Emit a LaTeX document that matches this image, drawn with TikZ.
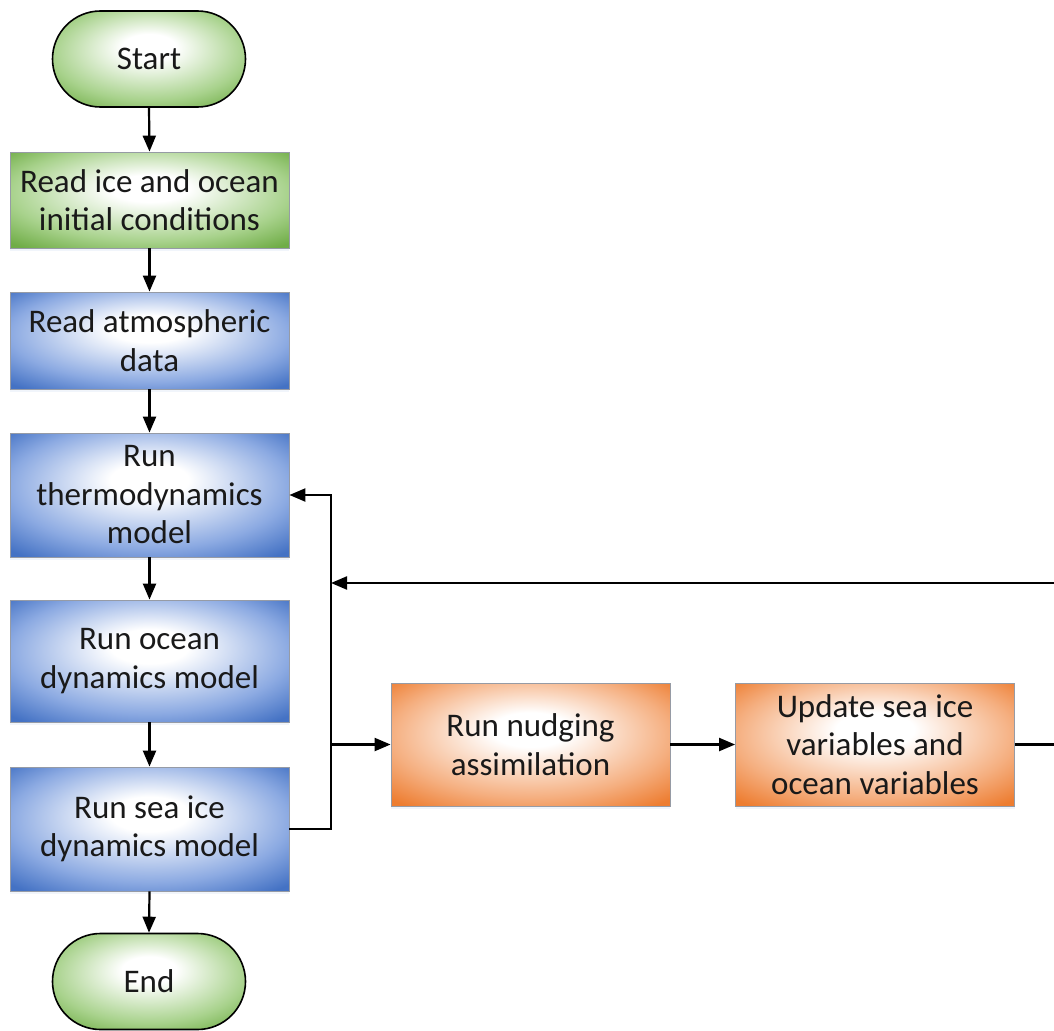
\documentclass[tikz,border=0pt]{standalone}
\usepackage{fontspec}
\setmainfont{Carlito}
\usetikzlibrary{arrows.meta,shadows}

\definecolor{bluedk}{RGB}{68,114,196}
\definecolor{bluemd}{RGB}{140,170,226}
\definecolor{greendk}{RGB}{112,173,71}
\definecolor{greenmd}{RGB}{168,210,140}
\definecolor{orangedk}{RGB}{237,125,49}
\definecolor{orangemd}{RGB}{245,175,128}
\definecolor{inkc}{RGB}{25,25,25}
\definecolor{edgec}{RGB}{150,155,165}

% glossy radial fills, bright spot slightly above the middle
\pgfdeclareradialshading{blueglow}{\pgfpoint{0bp}{7bp}}{color(0bp)=(white); color(7bp)=(white); color(25bp)=(bluemd); color(35bp)=(bluedk); color(50bp)=(bluedk)}
\pgfdeclareradialshading{greenglow}{\pgfpoint{0bp}{7bp}}{color(0bp)=(white); color(7bp)=(white); color(25bp)=(greenmd); color(35bp)=(greendk); color(50bp)=(greendk)}
\pgfdeclareradialshading{orangeglow}{\pgfpoint{0bp}{7bp}}{color(0bp)=(white); color(7bp)=(white); color(25bp)=(orangemd); color(35bp)=(orangedk); color(50bp)=(orangedk)}

\begin{document}
\begin{tikzpicture}[x=1pt,y=-1pt,
  lbl/.style={font=\fontsize{33}{38.5}\selectfont, text=inkc, align=center, inner sep=0pt},
  procbox/.style={lbl, rectangle, draw=edgec, line width=0.8pt, minimum width=279pt,
    drop shadow={shadow xshift=0pt, shadow yshift=-3pt, opacity=0.18, fill=bluedk!40}},
  bluebox/.style={procbox, shading=blueglow},
  greenbox/.style={procbox, shading=greenglow},
  orangebox/.style={procbox, shading=orangeglow},
  terminal/.style={lbl, rectangle, rounded corners=48pt, draw=black, line width=1.6pt,
    minimum width=193pt, minimum height=96pt, shading=greenglow},
  flow/.style={draw=black, line width=2.2pt, -{Triangle[length=16pt,width=13pt]}},
  wire/.style={draw=black, line width=2.2pt}]

\useasboundingbox (0,0) rectangle (1054,1030);
\clip (0,0) rectangle (1054,1030);

% main column
\node[terminal] (start) at (149,59) {Start};
\node[greenbox, minimum height=96pt] (readice) at (149.5,200) {Read ice and ocean\\initial conditions};
\node[bluebox, minimum height=97pt] (readatm) at (149.5,340.5) {Read atmospheric\\data};
\node[bluebox, minimum height=124pt] (thermo) at (149.5,495) {Run\\thermodynamics\\model};
\node[bluebox, minimum height=122pt] (ocean) at (149.5,661) {Run ocean\\dynamics model};
\node[bluebox, minimum height=124pt] (seaice) at (149.5,829) {Run sea ice\\dynamics model};
\node[terminal] (finish) at (149,981.5) {End};

% assimilation branch
\node[orangebox, minimum height=123pt] (nudge) at (530.5,744.5) {Run nudging\\assimilation};
\node[orangebox, minimum height=123pt] (update) at (875,744.5) {Update sea ice\\variables and\\ocean variables};

% junction points of the feedback loop
\coordinate (jS) at (331,829);
\coordinate (jT) at (331,495);
\coordinate (jN) at (331,744.5);
\coordinate (jR) at (331,583);
\coordinate (farU) at (1080,744.5);
\coordinate (farR) at (1080,583);

% straight flow down the column
\draw[flow] (start.south) -- (readice.north);
\draw[flow] (readice.south) -- (readatm.north);
\draw[flow] (readatm.south) -- (thermo.north);
\draw[flow] (thermo.south) -- (ocean.north);
\draw[flow] (ocean.south) -- (seaice.north);
\draw[flow] (seaice.south) -- (finish.north);

% loop back to thermodynamics and branch to assimilation
\draw[flow] (seaice.east) -- (jS) -- (jT) -- (thermo.east);
\draw[flow] (jN) -- (nudge.west);
\draw[flow] (nudge.east) -- (update.west);
\draw[flow] (update.east) -- (farU) -- (farR) -- (jR);
\end{tikzpicture}
\end{document}
